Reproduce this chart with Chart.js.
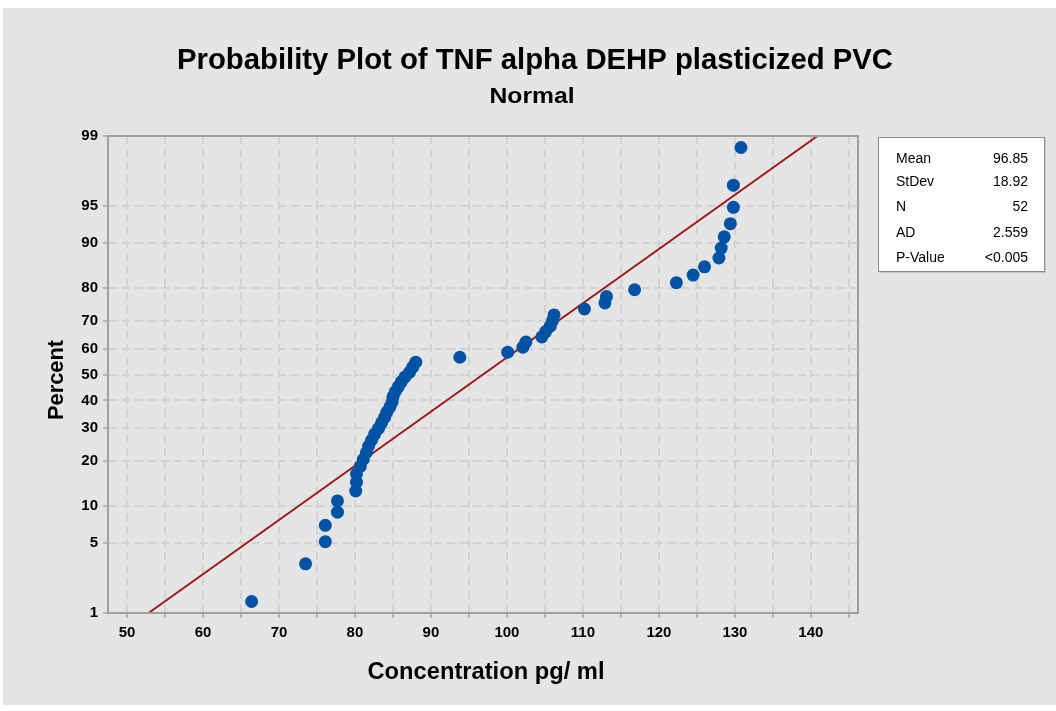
<!DOCTYPE html>
<html>
<head>
<meta charset="utf-8">
<script src="https://cdn.jsdelivr.net/npm/chart.js@4"></script>
<style>
  body { margin: 0; background: #fff; font-family: "Liberation Sans", Arial, sans-serif; }
  #bg { position: absolute; left: 3px; top: 8px; width: 1053px; height: 697px; background: #e5e5e5; }
  #wrap { position: absolute; left: 0; top: 0; width: 1056px; height: 711px; }
  #stats { position: absolute; left: 878px; top: 137px; width: 165px; height: 133px; background: #fff;
           border: 1px solid #8c8c8c; box-shadow: 1px 1px 0 #c8c8c8; font-size: 14px; color: #000; }
  #stats div { position: absolute; left: 17px; right: 16px; height: 18px; line-height: 18px; }
  #stats span.v { position: absolute; right: 0; }
</style>
</head>
<body>
<div id="bg"></div>
<div id="wrap"><canvas id="chart" width="1056" height="711"></canvas></div>
<div id="stats">
  <div style="top:11px">Mean<span class="v">96.85</span></div>
  <div style="top:34px">StDev<span class="v">18.92</span></div>
  <div style="top:59px">N<span class="v">52</span></div>
  <div style="top:85px">AD<span class="v">2.559</span></div>
  <div style="top:110px">P-Value<span class="v">&lt;0.005</span></div>
</div>
<script>
// DATOS
var concentracion = [66.4, 73.5, 76.1, 76.1, 77.7, 77.7, 80.1, 80.2, 80.2, 80.7,
                     81.1, 81.5, 81.8, 82.2, 82.6, 83.1, 83.5, 83.9, 84.2, 84.6,
                     84.9, 85.0, 85.3, 85.7, 86.1, 86.6, 87.2, 87.6, 88.0, 93.8,
                     100.1, 102.1, 102.5, 104.6, 105.1, 105.7, 106.0, 106.2, 110.2, 112.9,
                     113.1, 116.8, 122.3, 124.5, 126.0, 127.9, 128.2, 128.6, 129.4, 129.8,
                     129.8, 130.8];
var porcentaje = [1.34, 3.24, 5.15, 7.06, 8.97, 10.88, 12.79, 14.69, 16.60, 18.51,
                  20.42, 22.33, 24.24, 26.15, 28.05, 29.96, 31.87, 33.78, 35.69, 37.60,
                  39.50, 41.41, 43.32, 45.23, 47.14, 49.05, 50.95, 52.86, 54.77, 56.68,
                  58.59, 60.50, 62.40, 64.31, 66.22, 68.13, 70.04, 71.95, 73.85, 75.76,
                  77.67, 79.58, 81.49, 83.40, 85.31, 87.21, 89.12, 91.03, 92.94, 94.85,
                  96.76, 98.66];
var media = 96.85;
var desvEst = 18.92;
var yTickLabels = [1, 5, 10, 20, 30, 40, 50, 60, 70, 80, 90, 95, 99];
var xTickValues = [50, 55, 60, 65, 70, 75, 80, 85, 90, 95, 100, 105, 110, 115, 120, 125, 130, 135, 140, 145];

// cuantil normal (escala de probabilidad)
function normInv(p){
	var a=[-3.969683028665376e+01,2.209460984245205e+02,-2.759285104469687e+02,1.383577518672690e+02,-3.066479806614716e+01,2.506628277459239e+00];
	var b=[-5.447609879822406e+01,1.615858368580409e+02,-1.556989798598866e+02,6.680131188771972e+01,-1.328068155288572e+01];
	var c=[-7.784894002430293e-03,-3.223964580411365e-01,-2.400758277161838e+00,-2.549732539343734e+00,4.374664141464968e+00,2.938163982698783e+00];
	var d=[7.784695709041462e-03,3.224671290700398e-01,2.445134137142996e+00,3.754408661907416e+00];
	var pl = 0.02425, q, r;
	if(p < pl){
		q = Math.sqrt(-2*Math.log(p));
		return (((((c[0]*q+c[1])*q+c[2])*q+c[3])*q+c[4])*q+c[5])/((((d[0]*q+d[1])*q+d[2])*q+d[3])*q+1);
	}
	if(p <= 1-pl){
		q = p-0.5; r = q*q;
		return (((((a[0]*r+a[1])*r+a[2])*r+a[3])*r+a[4])*r+a[5])*q/(((((b[0]*r+b[1])*r+b[2])*r+b[3])*r+b[4])*r+1);
	}
	q = Math.sqrt(-2*Math.log(1-p));
	return -(((((c[0]*q+c[1])*q+c[2])*q+c[3])*q+c[4])*q+c[5])/((((d[0]*q+d[1])*q+d[2])*q+d[3])*q+1);
}
function z(pct){ return normInv(pct/100); }

var puntos = concentracion.map(function(x, i){ return {x: x, y: z(porcentaje[i])}; });
var zMin = z(yTickLabels[0]), zMax = z(yTickLabels[yTickLabels.length-1]);
var recta = [{x: media + desvEst*zMin, y: zMin}, {x: media + desvEst*zMax, y: zMax}];

// textos fijos y marco
function fitText(ctx, text, cx, cy, w, font, rot){
	ctx.save();
	ctx.font = font;
	var m = ctx.measureText(text).width;
	ctx.translate(cx, cy);
	if(rot) ctx.rotate(-Math.PI/2);
	ctx.scale(w/m, 1);
	ctx.textAlign = 'center';
	ctx.textBaseline = 'alphabetic';
	ctx.fillStyle = '#000';
	ctx.fillText(text, 0, 0);
	ctx.restore();
}
var decoracion = {
	id: 'decoracion',
	afterDraw: function(chart){
		var ctx = chart.ctx, a = chart.chartArea;
		ctx.save();
		ctx.strokeStyle = '#a0a0a0';
		ctx.lineWidth = 2;
		ctx.strokeRect(a.left, a.top, a.right-a.left, a.bottom-a.top);
		ctx.restore();
		fitText(ctx, 'Probability Plot of TNF alpha DEHP plasticized PVC', 535, 69, 716, 'bold 29px "Liberation Sans Narrow", "Liberation Sans", Arial, sans-serif');
		fitText(ctx, 'Normal', 532, 103, 85, 'bold 22px "Liberation Sans Narrow", "Liberation Sans", Arial, sans-serif');
		fitText(ctx, 'Percent', 63, 380, 80, 'bold 22px "Liberation Sans Narrow", "Liberation Sans", Arial, sans-serif', true);
		fitText(ctx, 'Concentration pg/ ml', 486, 679, 237, 'bold 23px "Liberation Sans Narrow", "Liberation Sans", Arial, sans-serif');
	}
};

var fuenteTicks = {family: '"Liberation Sans", Arial, sans-serif', size: 15, weight: 'bold'};

var canvas = document.getElementById('chart').getContext('2d');
window.grafico = new Chart(canvas, {
	type: 'scatter',
	data: {
		datasets: [{
			data: puntos,
			backgroundColor: '#0053a4',
			borderColor: '#0053a4',
			pointRadius: 6.5,
			pointBorderWidth: 0
		}, {
			type: 'line',
			data: recta,
			borderColor: '#9e1b1b',
			borderWidth: 2,
			pointRadius: 0,
			fill: false
		}]
	},
	options: {
		responsive: false,
		animation: false,
		layout: {padding: {left: 0, right: 198, top: 136, bottom: 0}},
		plugins: {legend: {display: false}, tooltip: {enabled: false}},
		scales: {
			x: {
				type: 'linear', min: 47.5, max: 146.2,
				afterBuildTicks: function(s){ s.ticks = xTickValues.map(function(v){ return {value: v}; }); },
				afterFit: function(s){ s.height = 98; },
				ticks: {
					autoSkip: false, maxRotation: 0, color: '#000', font: fuenteTicks, padding: 6,
					callback: function(v){ return v % 10 === 0 ? v : ''; }
				},
				grid: {color: '#d2d2d2', lineWidth: 2, tickColor: '#8c8c8c', tickLength: 5, tickWidth: 1},
				border: {dash: [8, 5], color: '#a0a0a0', width: 2}
			},
			y: {
				type: 'linear', min: zMin, max: zMax,
				afterBuildTicks: function(s){ s.ticks = yTickLabels.map(function(p){ return {value: z(p)}; }); },
				afterFit: function(s){ s.width = 108; },
				ticks: {
					autoSkip: false, color: '#000', font: fuenteTicks, padding: 5,
					callback: function(v, i){ return yTickLabels[i]; }
				},
				grid: {color: '#d2d2d2', lineWidth: 2, tickColor: '#8c8c8c', tickLength: 5, tickWidth: 1},
				border: {dash: [8, 5], color: '#a0a0a0', width: 2}
			}
		}
	},
	plugins: [decoracion]
});
</script>
</body>
</html>
